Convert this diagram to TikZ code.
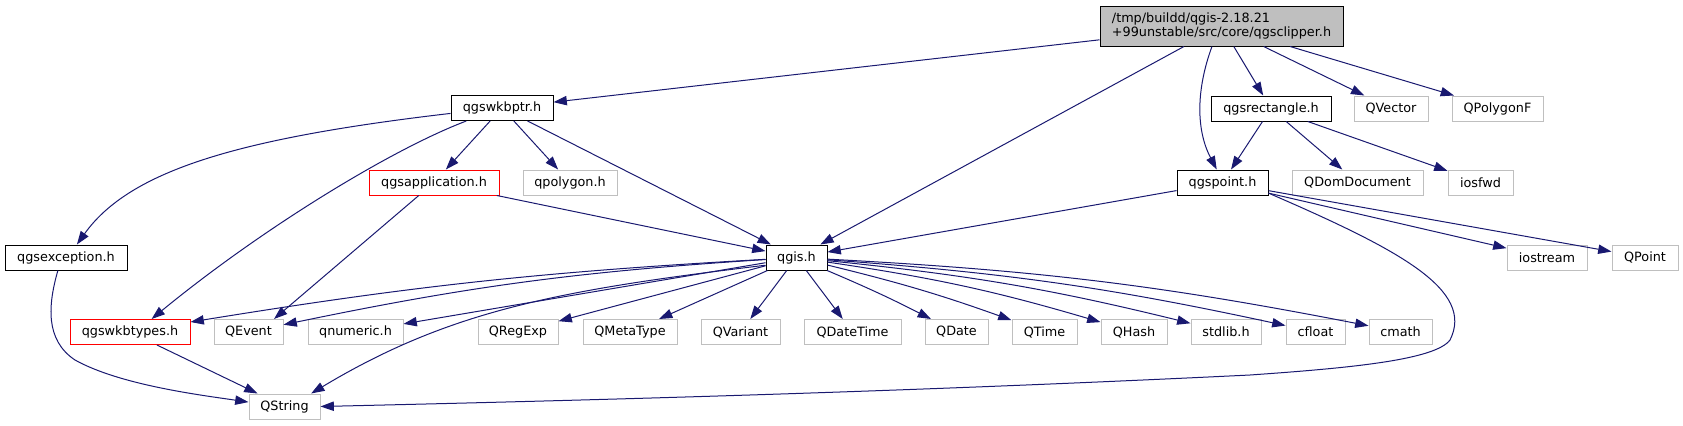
\documentclass[tikz,border=0pt]{standalone}
\usepackage{fontspec}
\setmainfont{DejaVu Sans}
\usetikzlibrary{arrows.meta}
\definecolor{edgec}{HTML}{191970}
\definecolor{grayb}{HTML}{BFBFBF}
\definecolor{redb}{HTML}{FF0000}
\begin{document}
\begin{tikzpicture}[x=0.75pt,y=-0.75pt,
  nbox/.style={draw, line width=0.75pt, inner sep=0pt, minimum height=18.75pt,
    font=\fontsize{9.6}{10.5}\selectfont, text=black},
  doc/.style={nbox, draw=black},
  ext/.style={nbox, draw=grayb},
  redbox/.style={nbox, draw=redb},
  wd/.style={minimum width=#1*0.75pt},
  dep/.style={draw=edgec, line width=0.75pt, -{Triangle[length=10pt,width=7pt]}}
]
\useasboundingbox (0,0) rectangle (1683,425);

% row 0
\node[nbox, draw=black, fill=grayb, wd=243, minimum height=30pt, align=left] (root) at (1221.5,26)
  {/tmp/buildd/qgis-2.18.21\\+99unstable/src/core/qgsclipper.h};
% row 1
\node[doc, wd=102] (wkbptr) at (502,108) {qgswkbptr.h};
\node[doc, wd=120] (rect) at (1271,108.5) {qgsrectangle.h};
\node[ext, wd=74] (qvector) at (1391,108.5) {QVector};
\node[ext, wd=91] (qpolygonf) at (1497.5,108.5) {QPolygonF};
% row 2
\node[redbox, wd=130] (app) at (434,182.5) {qgsapplication.h};
\node[ext, wd=94] (qpolygon) at (570,182.5) {qpolygon.h};
\node[doc, wd=91] (point) at (1222.5,182.5) {qgspoint.h};
\node[ext, wd=131] (qdom) at (1357.5,182.5) {QDomDocument};
\node[ext, wd=65] (iosfwd) at (1480.5,182.5) {iosfwd};
% row 3
\node[doc, wd=122] (exc) at (66,257.5) {qgsexception.h};
\node[doc, wd=61] (qgis) at (796.5,257.5) {qgis.h};
\node[ext, wd=80] (iostream) at (1547,257.5) {iostream};
\node[ext, wd=66] (qpoint) at (1645,257.5) {QPoint};
% row 4
\node[redbox, wd=120] (wkbtypes) at (130,332) {qgswkbtypes.h};
\node[ext, wd=69] (qevent) at (248.5,332) {QEvent};
\node[ext, wd=95] (qnumeric) at (355.5,332) {qnumeric.h};
\node[ext, wd=80] (qregexp) at (518,332) {QRegExp};
\node[ext, wd=94] (qmetatype) at (630,332) {QMetaType};
\node[ext, wd=79] (qvariant) at (740.5,332) {QVariant};
\node[ext, wd=97] (qdatetime) at (852.5,332) {QDateTime};
\node[ext, wd=63] (qdate) at (956.5,332) {QDate};
\node[ext, wd=65] (qtime) at (1044.5,332) {QTime};
\node[ext, wd=66] (qhash) at (1134,332) {QHash};
\node[ext, wd=70] (stdlib) at (1226,332) {stdlib.h};
\node[ext, wd=59] (cfloat) at (1315.5,332) {cfloat};
\node[ext, wd=63] (cmath) at (1400.5,332) {cmath};
% row 5
\node[ext, wd=71] (qstring) at (284.5,406.5) {QString};

% edges from root
\draw[dep] (root) -- (wkbptr);
\draw[dep] (root) -- (qgis);
\draw[dep] (root.245) .. controls (1196,90) and (1196,130) .. (point.114);
\draw[dep] (root) -- (rect);
\draw[dep] (root) -- (qvector);
\draw[dep] (root) -- (qpolygonf);
% edges from qgswkbptr
\draw[dep] (wkbptr.186) .. controls (240,138) and (130,170) .. (exc.50);
\draw[dep] (wkbptr.200) .. controls (390,150) and (260,230) .. (wkbtypes.31);
\draw[dep] (wkbptr) -- (app);
\draw[dep] (wkbptr) -- (qpolygon);
\draw[dep] (wkbptr) -- (qgis);
% edges from qgsrectangle
\draw[dep] (rect) -- (point);
\draw[dep] (rect) -- (qdom);
\draw[dep] (rect) -- (iosfwd);
% edges from qgsapplication
\draw[dep] (app) -- (qgis);
\draw[dep] (app) -- (qevent.27);
% edges from qgspoint
\draw[dep] (point) -- (qgis);
\draw[dep] (point) -- (iostream);
\draw[dep] (point) -- (qpoint);
\draw[dep] (point.-13) .. controls (1400,250) and (1475,290) .. (1450,340)
  .. controls (1435,360) and (1350,368) .. (1250,375)
  .. controls (900,392) and (600,400) .. (qstring.east);
% edges from qgsexception and qgswkbtypes
\draw[dep] (exc.238) .. controls (48,305) and (45,340) .. (75,360)
  .. controls (120,385) and (200,395) .. (qstring.173);
\draw[dep] (wkbtypes) -- (qstring);
% edges from qgis.h
\draw[dep] (qgis) to[bend right=3] (wkbtypes);
\draw[dep] (qgis) to[bend right=4] (qevent);
\draw[dep] (qgis) -- (qnumeric);
\draw[dep] (qgis.194) .. controls (560,290) and (450,310) .. (qstring.26);
\draw[dep] (qgis) -- (qregexp);
\draw[dep] (qgis) -- (qmetatype);
\draw[dep] (qgis) -- (qvariant);
\draw[dep] (qgis) -- (qdatetime);
\draw[dep] (qgis) to[bend left=2] (qdate);
\draw[dep] (qgis) to[bend left=3] (qtime);
\draw[dep] (qgis) to[bend left=4] (qhash);
\draw[dep] (qgis) to[bend left=4] (stdlib);
\draw[dep] (qgis) to[bend left=4] (cfloat);
\draw[dep] (qgis) to[bend left=4] (cmath);
\end{tikzpicture}
\end{document}
